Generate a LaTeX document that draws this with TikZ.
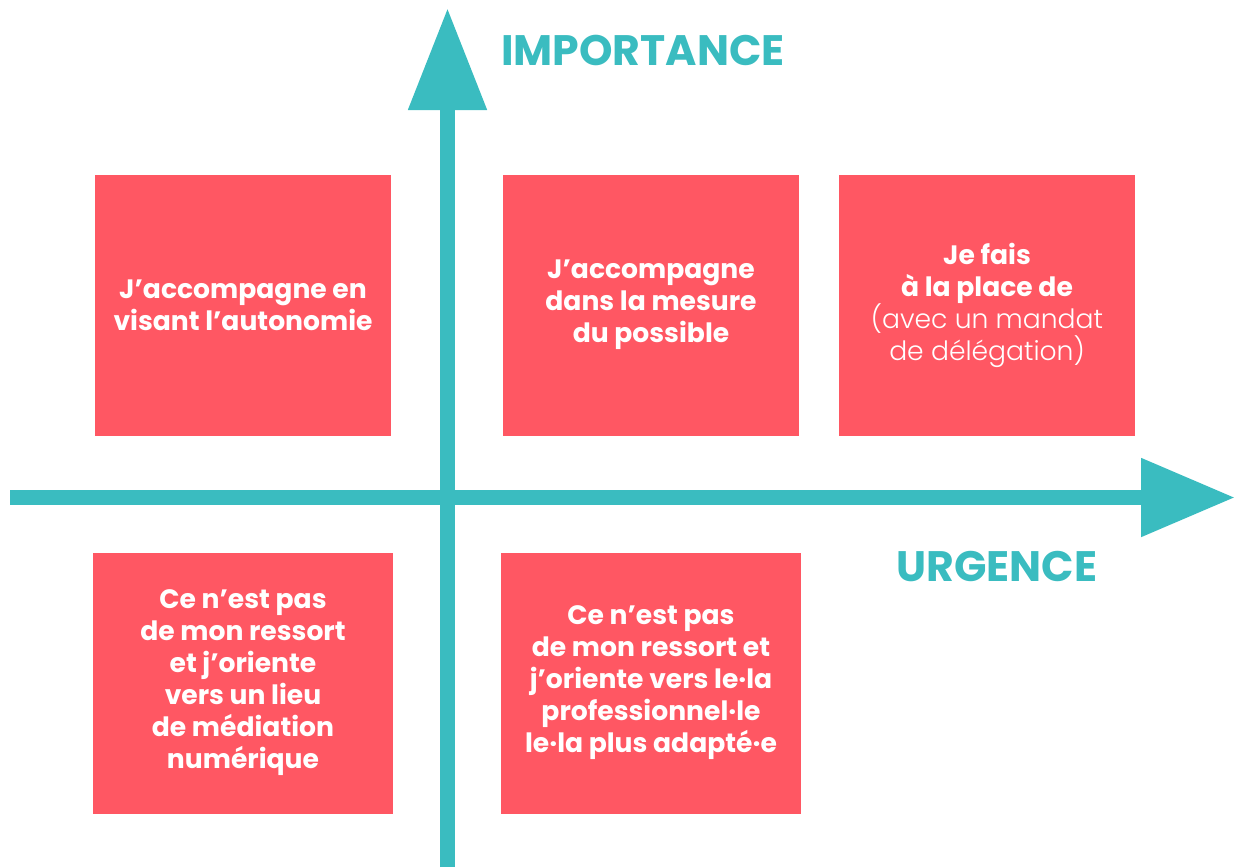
\documentclass[tikz,border=0pt]{standalone}
\usepackage{fontspec}
\setmainfont{Poppins}
\newfontfamily\lightfont{Poppins Light}
\usetikzlibrary{arrows.meta}
\definecolor{axisteal}{HTML}{3ABCC0}
\definecolor{boxred}{HTML}{FF5763}
\tikzset{
  quadbox/.style={
    fill=boxred, text=white, align=center, inner sep=0pt,
    minimum width=148pt, minimum height=130.5pt,
    font=\fontsize{13.3pt}{16pt}\selectfont\bfseries,
  },
  axisline/.style={
    draw=axisteal, line width=7.5pt,
    -{Triangle[length=#1,width=37.5pt]},
  },
  axislabel/.style={
    text=axisteal, font=\fontsize{21.3pt}{26pt}\selectfont\bfseries,
  },
}

\begin{document}
\begin{tikzpicture}[x=0.5pt,y=-0.5pt]
  \useasboundingbox (0,0) rectangle (1235,867);

  % axes
  \coordinate (vbot) at (447.5,867);
  \coordinate (vtop) at (447.5,8);
  \coordinate (hleft) at (10,497.5);
  \coordinate (hright) at (1235,497.5);
  \draw [axisline=51pt] (vbot) -- (vtop);
  \draw [axisline=47pt] (hleft) -- (hright);

  \node [axislabel] (importance) at (643,50) {IMPORTANCE};
  \node [axislabel] (urgence) at (997,567) {URGENCE};

  % quadrants
  \node [quadbox] (autonomie) at (243,305) {J’accompagne en\\visant l’autonomie};
  \node [quadbox] (possible) at (651,305) {J’accompagne\\dans la mesure\\du possible};
  \node [quadbox] (place) at (987,305) {Je fais\\à la place de\\{\lightfont\mdseries (avec un mandat}\\{\lightfont\mdseries de délégation)}};

  \node [quadbox, minimum width=150pt] (mediation) at (243,683) {Ce n’est pas\\de mon ressort\\et j’oriente\\vers un lieu\\de médiation\\numérique};
  \node [quadbox, minimum width=150pt] (professionnel) at (651,683) {Ce n’est pas\\de mon ressort et\\j’oriente vers le·la\\professionnel·le\\le·la plus adapté·e};
\end{tikzpicture}
\end{document}
